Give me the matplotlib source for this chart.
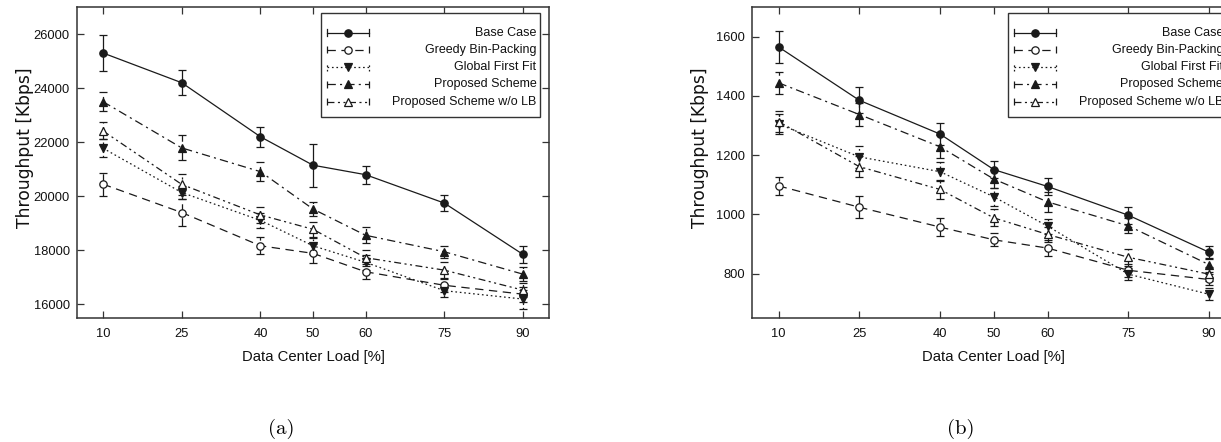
import matplotlib
matplotlib.use("Agg")
import matplotlib.pyplot as plt
from matplotlib.lines import Line2D
from matplotlib.patches import Rectangle
from matplotlib.transforms import ScaledTranslation

plt.rcParams["lines.scale_dashes"] = False
plt.rcParams["font.family"] = ["Liberation Sans", "DejaVu Sans"]

# ---- data -------------------------------------------------------------
load = [10, 25, 40, 50, 60, 75, 90]
series_names = ["Base Case", "Greedy Bin-Packing", "Global First Fit",
                "Proposed Scheme", "Proposed Scheme w/o LB"]

# (a) throughput [Kbps]
base_a = [25300, 24200, 22200, 21150, 20800, 19750, 17850]
base_a_err = [680, 470, 380, 800, 330, 310, 300]
greedy_a = [20450, 19400, 18170, 17890, 17210, 16710, 16380]
greedy_a_err = [430, 500, 320, 350, 280, 250, 280]
global_a = [21780, 20140, 19110, 18170, 17560, 16510, 16200]
global_a_err = [330, 250, 270, 300, 280, 250, 350]
proposed_a = [23500, 21790, 20910, 19530, 18560, 17950, 17120]
proposed_a_err = [360, 460, 345, 270, 300, 220, 260]
wolb_a = [22420, 20440, 19310, 18780, 17730, 17270, 16530]
wolb_a_err = [310, 380, 285, 280, 290, 285, 250]

# (b) throughput [Kbps]
base_b = [1565, 1385, 1271, 1151, 1094, 997, 872]
base_b_err = [55, 44, 38, 29, 29, 29, 22]
greedy_b = [1096, 1024, 957, 914, 886, 811, 780]
greedy_b_err = [31, 37, 30, 22, 27, 22, 20]
global_b = [1305, 1194, 1144, 1059, 960, 798, 730]
global_b_err = [35, 36, 33, 30, 25, 20, 20]
proposed_b = [1444, 1337, 1228, 1119, 1042, 961, 830]
proposed_b_err = [38, 40, 39, 30, 33, 25, 24]
wolb_b = [1313, 1161, 1084, 988, 932, 855, 798]
wolb_b_err = [36, 36, 33, 29, 25, 28, 24]

yticks_a = [16000, 18000, 20000, 22000, 24000, 26000]
yticks_b = [800, 1000, 1200, 1400, 1600]

# ---- styles -----------------------------------------------------------
INK = "#1a1a1a"
TEXT = "#111111"
styles = [
    dict(ls="-", marker="o", mfc=INK),
    dict(ls=(0, (6, 4)), marker="o", mfc="white"),
    dict(ls=(0, (1.2, 2)), marker="v", mfc=INK),
    dict(ls=(0, (6, 3, 1.5, 3)), marker="^", mfc=INK),
    dict(ls=(0, (5, 2.5, 1.5, 2.5, 1.5, 2.5)), marker="^", mfc="white"),
]

W, H = 1221, 442
DPI = 100
fig = plt.figure(figsize=(W / DPI, H / DPI), dpi=DPI)


def px_axes(x0, y0, x1, y1):
    """Axes placed by pixel edges (origin at the top-left of the figure)."""
    return fig.add_axes([x0 / W, 1 - y1 / H, (x1 - x0) / W, (y1 - y0) / H])


def draw_key(ax, right_margin=9.5, top_margin=6.0, width=219, height=104):
    """Boxed key in gnuplot style, laid out in pixels from the top-right corner."""
    tr = fig.dpi_scale_trans + ScaledTranslation(1, 1, ax.transAxes)
    x_left = -right_margin - width
    y_top = -top_margin

    frame = Rectangle((x_left / DPI, (y_top - height) / DPI), width / DPI,
                      height / DPI, fc="white", ec="#333333", lw=1.0,
                      transform=tr, zorder=5, clip_on=False)
    ax.add_artist(frame)

    row0, step = 19.5, 17.25
    for i, (name, st) in enumerate(zip(series_names, styles)):
        y = (y_top - row0 - i * step) / DPI
        xa, xb = (x_left + 6) / DPI, (x_left + 48) / DPI
        xm = (xa + xb) / 2
        ax.add_artist(Line2D([xa, xb], [y, y], color=INK, lw=0.9, ls=st["ls"],
                             transform=tr, zorder=6, clip_on=False))
        for xe in (xa, xb):
            ax.add_artist(Line2D([xe, xe], [y - 0.035, y + 0.035], color=INK,
                                 lw=0.9, ls=st["ls"], transform=tr, zorder=6,
                                 clip_on=False))
        ax.add_artist(Line2D([xm], [y], color=INK, ls="none", marker=st["marker"],
                             ms=5.3, mfc=st["mfc"], mec=INK, mew=0.9,
                             transform=tr, zorder=7, clip_on=False))
        ax.text((x_left + width - 3.5) / DPI, y, name, transform=tr,
                ha="right", va="center", fontsize=9, color=TEXT,
                zorder=7, clip_on=False)


def panel(ax, groups, yticks, ylim, axes_px_width):
    for (vals, errs), st in zip(groups, styles):
        _, caps, bars = ax.errorbar(load, vals, yerr=errs, color=INK, lw=0.9,
                                    ls=st["ls"], marker=st["marker"], ms=5.3,
                                    mfc=st["mfc"], mec=INK, mew=0.9,
                                    capsize=3, capthick=0.9, elinewidth=0.9)
        for b in bars:
            b.set_linestyle(st["ls"])
    ax.set_xlim(5, 95)
    ax.set_ylim(*ylim)
    ax.set_xticks(load)
    ax.set_yticks(yticks)
    ax.tick_params(direction="in", top=True, right=True, length=5, width=0.9,
                   color="#333333", labelsize=9.3, labelcolor=TEXT)
    ax.tick_params(axis="x", pad=7.5)
    ax.tick_params(axis="y", pad=5)
    for s in ax.spines.values():
        s.set_color("#333333")
        s.set_linewidth(1.1)
    ax.set_xlabel("Data Center Load [%]", fontsize=10.7, color=TEXT, labelpad=7)
    ax.set_ylabel("Throughput [Kbps]", fontsize=12.3, family=["DejaVu Sans"],
                  color=TEXT)
    ax.yaxis.set_label_coords(-43.0 / axes_px_width, 0.548)
    draw_key(ax)


ax_a = px_axes(76.7, 7, 549.3, 318)
panel(ax_a, [(base_a, base_a_err), (greedy_a, greedy_a_err), (global_a, global_a_err),
             (proposed_a, proposed_a_err), (wolb_a, wolb_a_err)],
      yticks_a, (15500, 27000), 549.3 - 76.7)

ax_b = px_axes(751.7, 7, 1236, 318)
panel(ax_b, [(base_b, base_b_err), (greedy_b, greedy_b_err), (global_b, global_b_err),
             (proposed_b, proposed_b_err), (wolb_b, wolb_b_err)],
      yticks_b, (650, 1700), 1236 - 751.7)

cap_font = ["cmr10", "DejaVu Serif"]
fig.text(281 / W, 1 - 429 / H, "(a)", ha="center", va="center", fontsize=15,
         family=cap_font)
fig.text(961 / W, 1 - 429 / H, "(b)", ha="center", va="center", fontsize=15,
         family=cap_font)

fig.savefig("out.png", dpi=DPI)
